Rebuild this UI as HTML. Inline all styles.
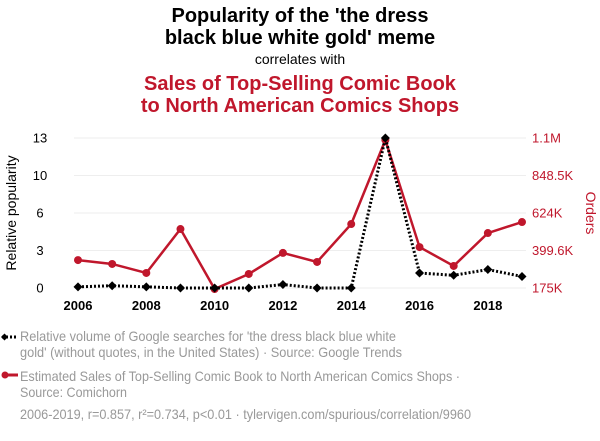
<!DOCTYPE html>
<html><head><meta charset="utf-8"><style>
body{margin:0;background:#fff;width:600px;height:436px;overflow:hidden;font-family:"Liberation Sans",sans-serif}
</style></head><body>
<svg id="chart" width="600" height="436" viewBox="0 0 600 436" font-family="Liberation Sans, sans-serif">
<text x="300" y="22" text-anchor="middle" font-size="20" font-weight="bold" fill="#000">Popularity of the 'the dress</text>
<text x="300" y="44" text-anchor="middle" font-size="20" font-weight="bold" fill="#000">black blue white gold' meme</text>
<text x="300" y="64" text-anchor="middle" font-size="14" fill="#000">correlates with</text>
<text x="300" y="90" text-anchor="middle" font-size="20" font-weight="bold" fill="#c0172c">Sales of Top-Selling Comic Book</text>
<text x="300" y="112" text-anchor="middle" font-size="20" font-weight="bold" fill="#c0172c">to North American Comics Shops</text>
<text transform="translate(16,213) rotate(-90)" text-anchor="middle" font-size="14" fill="#000">Relative popularity</text>
<text transform="translate(586,213) rotate(90)" text-anchor="middle" font-size="14" fill="#c0172c">Orders</text>
<g id="grid"></g><g id="axes"></g><g id="series"></g>
<g>
<line x1="2" y1="337" x2="18" y2="337" stroke="#000" stroke-width="3" stroke-dasharray="2,2"/>
<path d="M1 337 L4.5 333.5 L8 337 L4.5 340.5Z" fill="#000"/>
<text x="20" y="341" font-size="14" fill="#999" textLength="376" lengthAdjust="spacingAndGlyphs">Relative volume of Google searches for 'the dress black blue white</text>
<text x="20" y="357" font-size="14" fill="#999" textLength="382" lengthAdjust="spacingAndGlyphs">gold' (without quotes, in the United States) · Source: Google Trends</text>
<line x1="2" y1="375" x2="18" y2="375" stroke="#c0172c" stroke-width="3"/>
<circle cx="5" cy="375" r="3.5" fill="#c0172c"/>
<text x="20" y="381" font-size="14" fill="#999" textLength="440" lengthAdjust="spacingAndGlyphs">Estimated Sales of Top-Selling Comic Book to North American Comics Shops ·</text>
<text x="20" y="397" font-size="14" fill="#999" textLength="107" lengthAdjust="spacingAndGlyphs">Source: Comichorn</text>
<text x="20" y="419" font-size="14" fill="#999" textLength="451" lengthAdjust="spacingAndGlyphs">2006-2019, r=0.857, r²=0.734, p&lt;0.01 · tylervigen.com/spurious/correlation/9960</text>
</g>
</svg>
<script>
const years=[2006,2007,2008,2009,2010,2011,2012,2013,2014,2015,2016,2017,2018,2019];
const popularity=[0.1,0.2,0.1,0,0,0,0.3,0,0,13,1.3,1.1,1.6,1.0];
const orders=[342,319,265,528,169,259,385,331,558,1061,420,307,504,570];
const leftTicks=[0,3.25,6.5,9.75,13];
const leftLabels=["0","3","6","10","13"];
const rightTicks=[175,399.6,624,848.5,1073];
const rightLabels=["175K","399.6K","624K","848.5K","1.1M"];
const xTicks=[2006,2008,2010,2012,2014,2016,2018];
const NS="http://www.w3.org/2000/svg";
const X0=78,X1=522,YB=288,YT=138;
const x=v=>X0+(v-2006)/(2019-2006)*(X1-X0);
const yl=v=>YB-(v-0)/13*(YB-YT);
const yr=v=>YB-(v-175)/(1073-175)*(YB-YT);
function mk(t,a,p){const e=document.createElementNS(NS,t);for(const k in a)e.setAttribute(k,a[k]);p.appendChild(e);return e;}
const grid=document.getElementById('grid'),axes=document.getElementById('axes'),ser=document.getElementById('series');
leftTicks.forEach((t,i)=>{
 const g=mk('line',{x1:X0-4,x2:X1+4,y1:yl(t),y2:yl(t),stroke:'#eee'},grid);
 
 
 const l=mk('text',{x:40,y:yl(t)+4.5,'font-size':13,fill:'#000','text-anchor':'middle'},axes);l.textContent=leftLabels[i];
 
 
});
rightTicks.forEach((t,i)=>{
 const l=mk('text',{x:532,y:yr(t)+4.5,'font-size':13,fill:'#c0172c'},axes);l.textContent=rightLabels[i];
 
 
});
xTicks.forEach(t=>{
 const l=mk('text',{x:x(t),y:310,'font-size':13,'font-weight':'bold',fill:'#000','text-anchor':'middle'},axes);l.textContent=t;
 
 
});
const rl=mk('polyline',{points:years.map((y,i)=>x(y)+','+yr(orders[i])).join(' '),fill:'none',stroke:'#c0172c','stroke-width':2.5},ser);


years.forEach((y,i)=>{
 const c=mk('circle',{cx:x(y),cy:yr(orders[i]),r:4,fill:'#c0172c'},ser);
 
 
});
const bl=mk('polyline',{points:years.map((y,i)=>x(y)+','+yl(popularity[i])).join(' '),fill:'none',stroke:'#000','stroke-width':3,'stroke-dasharray':'2,2'},ser);


years.forEach((y,i)=>{
 const cx=x(y),cy=yl(popularity[i]);
 const d=mk('path',{d:`M${cx-4.5} ${cy} L${cx} ${cy-4.5} L${cx+4.5} ${cy} L${cx} ${cy+4.5}Z`,fill:'#000'},ser);
 
 
});
</script>
</body></html>
